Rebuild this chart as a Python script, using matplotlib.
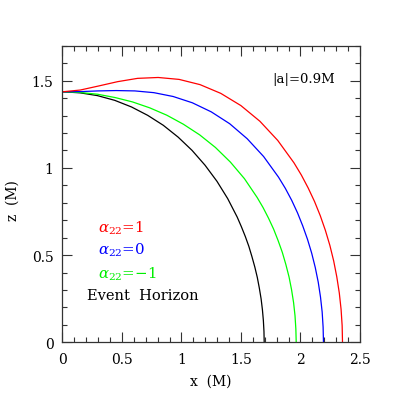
import matplotlib
matplotlib.use("Agg")
import matplotlib.pyplot as plt
from matplotlib.ticker import MultipleLocator

plt.rcParams['font.family'] = ['DejaVu Serif']
plt.rcParams['mathtext.fontset'] = 'dejavuserif'

# Event horizon (black)
horizon_x = [0, 0.148, 0.294, 0.439, 0.580, 0.716, 0.847, 0.972, 1.089, 1.198,
             1.298, 1.388, 1.468, 1.503, 1.536, 1.566, 1.592, 1.616, 1.637,
             1.654, 1.669, 1.680, 1.688, 1.693, 1.695]
horizon_z = [1.436, 1.430, 1.414, 1.387, 1.349, 1.301, 1.244, 1.176, 1.100, 1.015,
             0.923, 0.824, 0.718, 0.663, 0.607, 0.550, 0.491, 0.432, 0.372,
             0.311, 0.249, 0.187, 0.125, 0.063, 0.0]

# alpha22 = 0 (blue)
blue_x = [0, 0.148, 0.298, 0.452, 0.608, 0.768, 0.930, 1.091, 1.250, 1.405,
          1.552, 1.690, 1.815, 1.873, 1.926, 1.975, 2.019, 2.059, 2.094,
          2.124, 2.149, 2.168, 2.182, 2.190, 2.193]
blue_z = [1.436, 1.437, 1.441, 1.443, 1.441, 1.431, 1.409, 1.373, 1.321, 1.253,
          1.167, 1.065, 0.947, 0.882, 0.814, 0.742, 0.667, 0.590, 0.511,
          0.429, 0.345, 0.260, 0.174, 0.087, 0.0]

# alpha22 = 1 (red)
red_x = [0, 0.149, 0.302, 0.463, 0.631, 0.804, 0.980, 1.156, 1.330, 1.499,
         1.659, 1.809, 1.945, 2.007, 2.065, 2.118, 2.166, 2.209, 2.247,
         2.279, 2.305, 2.326, 2.341, 2.350, 2.353]
red_z = [1.436, 1.446, 1.469, 1.494, 1.513, 1.518, 1.507, 1.477, 1.427, 1.357,
         1.267, 1.157, 1.029, 0.959, 0.884, 0.807, 0.726, 0.642, 0.555,
         0.466, 0.375, 0.283, 0.189, 0.095, 0.0]

# alpha22 = -1 (green)
green_x = [0, 0.148, 0.295, 0.442, 0.588, 0.733, 0.876, 1.016, 1.153, 1.285,
           1.411, 1.529, 1.636, 1.685, 1.731, 1.774, 1.812, 1.847, 1.877,
           1.904, 1.925, 1.942, 1.954, 1.961, 1.964]
green_z = [1.436, 1.432, 1.422, 1.403, 1.378, 1.344, 1.302, 1.250, 1.189, 1.117,
           1.033, 0.938, 0.830, 0.773, 0.712, 0.649, 0.583, 0.516, 0.446,
           0.374, 0.301, 0.227, 0.152, 0.076, 0.0]

x_ticks = [0, 0.5, 1, 1.5, 2, 2.5]
x_tick_labels = ["0", "0.5", "1", "1.5", "2", "2.5"]
y_ticks = [0, 0.5, 1, 1.5]
y_tick_labels = ["0", "0.5", "1", "1.5"]

fig = plt.figure(figsize=(4.06, 4.06), dpi=100)
ax = fig.add_axes([0.1539, 0.1544, 0.7328, 0.7305])

lw = 0.9
ax.plot(horizon_x, horizon_z, color='black', lw=lw)
ax.plot(green_x, green_z, color='#00ff00', lw=lw)
ax.plot(blue_x, blue_z, color='#0000ff', lw=lw)
ax.plot(red_x, red_z, color='#ff0000', lw=lw)

ax.set_xlim(0, 2.5)
ax.set_ylim(0, 1.7)
ax.set_xticks(x_ticks)
ax.set_xticklabels(x_tick_labels)
ax.set_yticks(y_ticks)
ax.set_yticklabels(y_tick_labels)
ax.xaxis.set_minor_locator(MultipleLocator(0.1))
ax.yaxis.set_minor_locator(MultipleLocator(0.1))
ax.tick_params(which='both', direction='in', top=True, right=True,
               width=0.8, color='#333333', labelsize=10)
ax.tick_params(which='major', length=7.2)
ax.tick_params(which='minor', length=3.8)
ax.tick_params(axis='x', pad=7)
ax.tick_params(axis='y', pad=6.5)
for s in ax.spines.values():
    s.set_linewidth(0.9)
    s.set_color('#333333')

ax.set_xlabel('x  (M)', fontsize=10)
ax.set_ylabel('z  (M)', fontsize=10)
ax.xaxis.set_label_coords(0.5, -0.105)
ax.yaxis.set_label_coords(-0.145, 0.48)

ax.text(2.03, 1.514, '|a|=0.9M', fontsize=9.5, ha='center', va='center')

fs = 10.8
ax.text(0.297, 0.661, r'$\alpha_{22}$=1', color='#ff0000', fontsize=fs, ha='left', va='center')
ax.text(0.297, 0.532, r'$\alpha_{22}$=0', color='#0000ff', fontsize=fs, ha='left', va='center')
ax.text(0.297, 0.397, r'$\alpha_{22}$=−1', color='#00ee00', fontsize=fs, ha='left', va='center')
ax.text(0.204, 0.271, 'Event  Horizon', color='black', fontsize=10.5, ha='left', va='center')

fig.savefig('out.png', dpi=100)
